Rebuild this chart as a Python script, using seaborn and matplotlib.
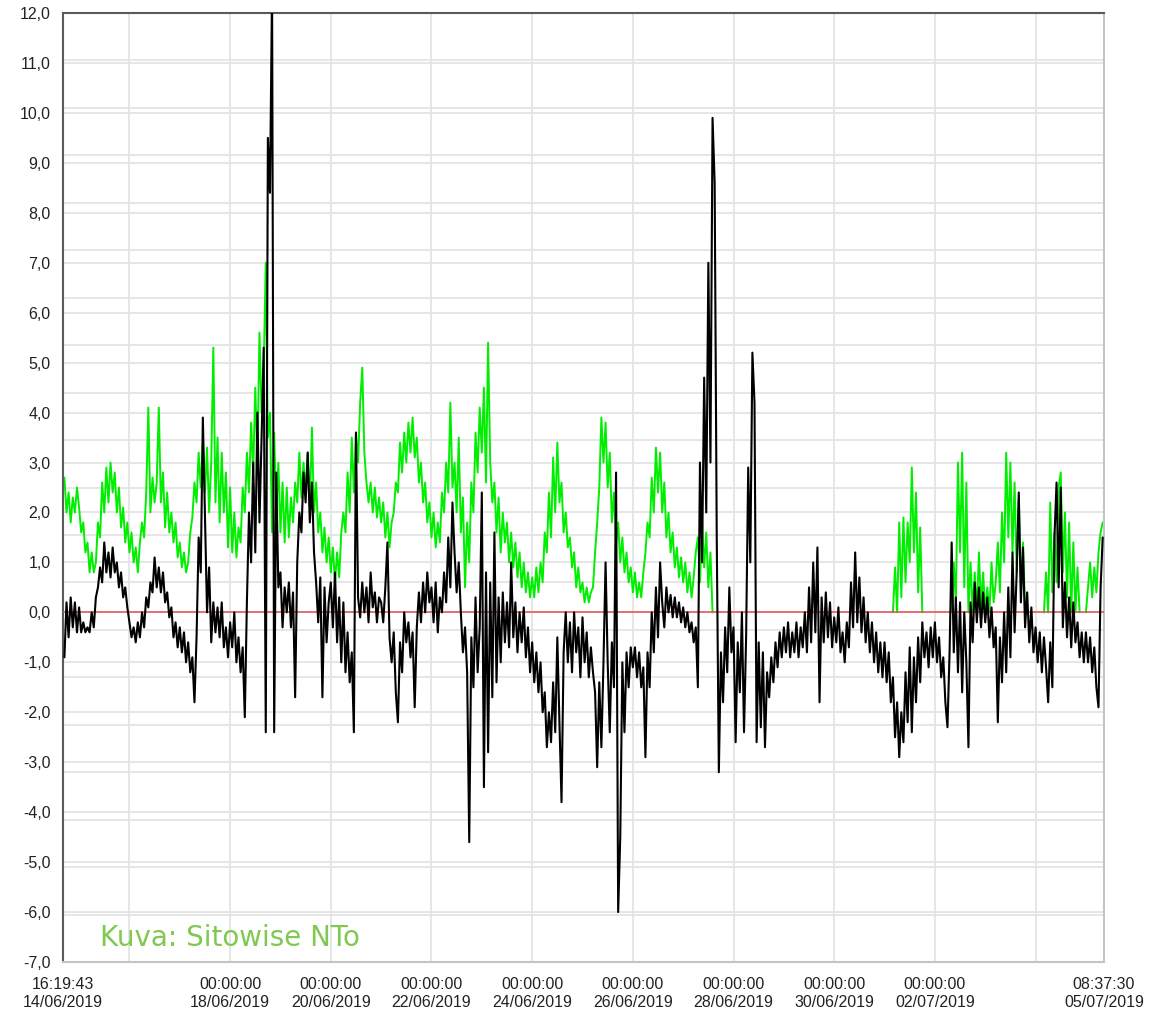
import numpy as np
import pandas as pd
import seaborn as sns
import matplotlib.pyplot as plt
import matplotlib.dates as mdates
from matplotlib.ticker import FixedLocator

sns.set_style('white')
plt.rcParams['font.family'] = ['Liberation Sans', 'DejaVu Sans']

# hourly readings, first value at 14/06/2019 17:00
black_vals = [
    -0.9, 0.2, -0.5, 0.3, -0.3, 0.2, -0.4,
    0.1, -0.4, -0.2, -0.4, -0.3, -0.4, 0.0, -0.3, 0.3, 0.5, 0.9, 0.6, 1.4, 0.8, 1.2, 0.7, 1.3, 0.8, 1.0, 0.5, 0.8, 0.3, 0.5, 0.1,
    -0.2, -0.5, -0.3, -0.6, -0.2, -0.5, 0.0, -0.3, 0.3, 0.1, 0.6, 0.4, 1.1, 0.5, 0.9, 0.4, 0.8, 0.2, 0.4, -0.1, 0.1, -0.5, -0.2, -0.7,
    -0.3, -0.8, -0.4, -1.0, -0.6, -1.2, -0.9, -1.8, -0.5, 1.5, 0.8, 3.9, 2.0, 0.0, 0.9, -0.6, 0.2, -0.4, 0.1, -0.5, 0.2, -0.7, -0.3, -0.9,
    -0.2, -0.7, 0.0, -1.0, -0.5, -1.2, -0.7, -2.1, 0.2, 2.0, 1.0, 3.0, 1.2, 4.0, 1.8, 3.5, 5.3, -2.4, 9.5, 8.4, 12.5, -2.4, 2.8, 0.5,
    0.8, -0.3, 0.5, 0.0, 0.6, -0.3, 0.4, -1.7, 1.0, 2.0, 1.6, 2.8, 2.2, 3.2, 1.8, 2.6, 1.2, 0.6, -0.2, 0.7, -1.7, 0.5, -0.6, 0.2,
    0.6, -0.3, 0.8, -0.6, 0.3, -1.0, 0.2, -1.2, -0.4, -1.4, -0.8, -2.4, 3.6, 0.3, -0.1, 0.6, 0.0, 0.5, -0.2, 0.8, 0.1, 0.4, -0.2, 0.3,
    0.2, -0.2, 0.5, 1.4, -0.5, -1.0, -0.4, -1.6, -2.2, -0.6, -1.2, 0.0, -0.6, -0.2, -0.9, -0.4, -1.9, -0.3, 0.4, -0.2, 0.6, 0.0, 0.8, 0.2,
    0.5, -0.2, 0.6, -0.4, 0.3, 0.0, 0.8, 0.2, 1.5, 0.5, 2.2, 1.2, 0.4, 1.0, 0.0, -0.8, -0.3, -1.2, -4.6, -0.5, -1.5, 0.3, -1.2, -0.3,
    2.4, -3.5, 0.8, -2.8, 0.6, -1.7, 1.6, -1.4, 0.3, -1.0, 0.4, -0.6, 0.2, -0.7, 1.0, -0.5, 0.2, -0.8, 0.0, -0.6, 0.1, -0.9, -0.3, -1.2,
    -0.6, -1.4, -0.8, -1.6, -1.0, -2.0, -1.6, -2.7, -2.0, -2.6, -1.4, -2.4, -0.5, -2.2, -3.8, -0.8, 0.0, -1.0, -0.2, -1.2, 0.0, -0.8, -0.3, -1.3,
    -0.1, -1.0, -0.4, -1.3, -0.7, -1.2, -1.6, -3.1, -1.4, -2.7, -1.0, 1.0, -1.0, -2.4, -0.6, -1.5, 2.8, -6.0, -4.5, -1.0, -2.4, -0.8, -1.5, -0.7,
    -1.1, -0.7, -1.3, -0.8, -1.5, -1.1, -2.9, -0.8, -1.5, 0.0, -0.8, 0.5, -0.5, 1.0, 0.2, -0.3, 0.5, 0.0, 0.35, -0.1, 0.3, -0.1, 0.2, -0.2,
    0.1, -0.3, 0.0, -0.4, -0.2, -0.6, -0.3, -1.5, 3.0, 1.0, 4.7, 2.0, 7.0, 3.0, 9.9, 8.6, 1.5, -3.2, -0.8, -1.8, -0.3, -1.2, 0.5, -0.8,
    -0.3, -2.6, -0.6, -1.6, 0.0, -2.4, -0.5, 2.9, 1.0, 5.2, 4.2, -2.6, -0.6, -2.3, -0.8, -2.7, -1.2, -1.7, -0.9, -1.4, -0.6, -1.1, -0.4, -0.9,
    -0.3, -0.8, -0.2, -0.9, -0.4, -0.8, -0.2, -0.9, -0.3, -0.7, 0.0, -0.8, 0.5, -0.6, 1.0, -0.4, 1.3, -1.8, 0.3, -0.6, 0.4, -0.5, 0.2, -0.7,
    -0.1, -0.6, 0.1, -0.8, -0.4, -1.0, -0.2, -0.7, 0.6, -0.3, 1.2, -0.2, 0.7, -0.4, 0.3, -0.6, 0.0, -0.8, -0.2, -1.0, -0.4, -1.2, -0.6, -1.3,
    -0.6, -1.4, -0.8, -1.8, -1.3, -2.5, -1.8, -2.9, -2.0, -2.6, -1.2, -2.2, -0.7, -2.4, -0.9, -1.8, -0.5, -1.4, -0.2, -0.9, -0.4, -1.1, -0.3, -0.9,
    -0.2, -1.0, -0.5, -1.3, -0.9, -1.8, -2.3, -0.8, 1.4, -0.8, 0.3, -1.2, 0.2, -1.6, 0.0, -1.0, -2.7, 0.2, -0.6, 0.6, -0.2, 0.5, -0.3, 0.4,
    -0.2, 0.3, -0.5, 0.1, -0.7, -0.3, -2.2, -0.5, -1.4, 0.0, -1.2, 0.5, -0.9, 1.2, -0.4, 0.8, 2.4, 0.2, 1.3, -0.3, 0.4, -0.6, 0.1, -0.8,
    -0.3, -1.0, -0.4, -1.2, -0.5, -1.1, -1.8, -0.6, -1.5, 1.5, 2.6, 0.5, 2.5, -0.3, 0.6, -0.5, 0.3, -0.7, 0.2, -0.6, -0.2, -0.9, -0.4, -1.0,
    -0.4, -1.0, -0.5, -1.2, -0.7, -1.5, -1.9, 0.5, 1.5,
]

green_vals = [
    2.7, 2.0, 2.4, 1.8, 2.3, 2.0, 2.5,
    2.1, 1.6, 1.8, 1.2, 1.4, 0.8, 1.2, 0.8, 1.0, 1.8, 1.5, 2.6, 2.0, 2.9, 2.2, 3.0, 2.4, 2.8, 2.0, 2.5, 1.7, 2.1, 1.4, 1.8,
    1.2, 1.6, 1.0, 1.3, 0.8, 1.4, 1.8, 1.5, 2.4, 4.1, 2.0, 2.7, 2.2, 2.6, 4.1, 2.2, 2.8, 1.7, 2.4, 1.6, 2.0, 1.4, 1.8, 1.1,
    1.4, 0.9, 1.2, 0.8, 1.0, 1.6, 1.9, 2.6, 2.2, 3.2, 2.5, 3.4, 2.4, 3.3, 2.0, 3.0, 5.3, 2.2, 3.5, 1.8, 3.2, 2.0, 2.8, 1.3,
    2.5, 1.2, 2.0, 1.1, 1.7, 1.4, 2.5, 2.0, 3.2, 2.4, 3.8, 2.8, 4.5, 3.0, 5.6, 4.0, 4.8, 7.0, 3.5, 4.0, 1.6, 3.6, 2.0, 3.0,
    1.6, 2.6, 1.4, 2.5, 1.5, 2.3, 1.8, 2.6, 2.2, 3.2, 2.3, 3.0, 2.4, 3.2, 2.1, 3.7, 2.0, 2.6, 1.6, 2.0, 1.2, 1.7, 1.0, 1.5,
    0.8, 1.3, 0.6, 1.2, 0.7, 1.6, 2.0, 1.6, 2.8, 2.0, 3.5, 2.4, 3.6, 3.0, 4.2, 4.9, 3.2, 2.6, 2.2, 2.6, 2.0, 2.5, 1.9, 2.3,
    1.8, 2.2, 1.5, 2.0, 1.3, 1.8, 2.0, 2.6, 2.4, 3.4, 2.8, 3.6, 3.0, 3.8, 3.2, 3.9, 3.1, 3.5, 2.6, 3.0, 2.2, 2.6, 1.8, 2.2,
    1.5, 2.0, 1.3, 1.8, 1.4, 2.4, 2.0, 3.0, 2.4, 4.2, 2.5, 3.0, 2.0, 3.5, 1.6, 2.3, 0.5, 1.8, 1.0, 2.6, 2.0, 3.6, 2.8, 4.1,
    3.2, 4.5, 2.6, 5.4, 3.0, 2.2, 2.6, 1.6, 2.3, 1.2, 2.0, 1.4, 1.8, 1.0, 1.6, 0.9, 1.4, 0.7, 1.2, 0.5, 1.0, 0.4, 0.8, 0.3,
    0.7, 0.3, 0.9, 0.4, 1.0, 0.6, 1.6, 1.2, 2.4, 1.5, 3.1, 2.0, 3.4, 2.2, 2.6, 1.6, 2.0, 1.3, 1.5, 0.9, 1.2, 0.5, 0.9, 0.4,
    0.6, 0.2, 0.5, 0.2, 0.4, 0.5, 1.2, 1.8, 2.5, 3.9, 3.0, 3.8, 2.5, 3.2, 1.8, 2.4, 1.4, 1.8, 1.0, 1.5, 0.8, 1.2, 0.6, 0.9,
    0.4, 0.8, 0.3, 0.6, 0.3, 0.8, 1.2, 1.8, 1.5, 2.7, 2.0, 3.3, 2.4, 3.2, 2.0, 2.6, 1.5, 2.0, 1.2, 1.6, 0.9, 1.3, 0.7, 1.1,
    0.6, 1.0, 0.4, 0.8, 0.3, 0.7, 1.2, 1.5, 0.6, 1.8, 0.9, 1.6, 0.5, 1.2, 0, 0, 0, 0, 0, 0, 0, 0, 0, 0,
    0, 0, 0, 0, 0, 0, 0, 0, 0, 0, 0, 0, 0, 0, 0, 0, 0, 0, 0, 0, 0, 0, 0, 0,
    0, 0, 0, 0, 0, 0, 0, 0, 0, 0, 0, 0, 0, 0, 0, 0, 0, 0, 0, 0, 0, 0, 0, 0,
    0, 0, 0, 0, 0, 0, 0, 0, 0, 0, 0, 0, 0, 0, 0, 0, 0, 0, 0, 0, 0, 0, 0, 0,
    0, 0, 0, 0, 0, 0.9, 0.0, 1.8, 0.3, 1.9, 0.6, 1.8, 1.0, 2.9, 1.2, 2.4, 0.4, 1.7, 0, 0, 0, 0, 0, 0,
    0, 0, 0, 0, 0, 0, 0, 0, 0, 1.0, 0.2, 3.0, 1.2, 3.2, 0.5, 2.6, 0.0, 1.0, 0.0, 0.8, 0.0, 1.2, 0.1, 0.8,
    0.0, 0.5, 0.0, 1.0, 0.2, 0.6, 1.4, 0.4, 2.0, 1.0, 3.2, 1.5, 3.0, 1.2, 2.6, 0.8, 2.3, 0.4, 1.4, 0, 0, 0, 0, 0,
    0, 0, 0, 0, 0, 0.8, 0.0, 2.2, 0.4, 1.6, 0.6, 2.5, 2.8, 0.8, 2.0, 0.3, 1.8, 0.0, 1.4, 0.0, 0.9, 0, 0, 0,
    0.0, 0.5, 1.0, 0.3, 0.9, 0.4, 1.2, 1.6, 1.8,
]

tick_times = ['2019-06-14 16:19:43', '2019-06-16 00:00:00', '2019-06-18 00:00:00',
              '2019-06-20 00:00:00', '2019-06-22 00:00:00', '2019-06-24 00:00:00',
              '2019-06-26 00:00:00', '2019-06-28 00:00:00', '2019-06-30 00:00:00',
              '2019-07-02 00:00:00', '2019-07-04 00:00:00', '2019-07-05 08:37:30']
tick_labels = ['16:19:43\n14/06/2019', '', '00:00:00\n18/06/2019',
               '00:00:00\n20/06/2019', '00:00:00\n22/06/2019',
               '00:00:00\n24/06/2019', '00:00:00\n26/06/2019',
               '00:00:00\n28/06/2019', '00:00:00\n30/06/2019',
               '00:00:00\n02/07/2019', '', '08:37:30\n05/07/2019']
y_ticks = list(range(-7, 13))

times = pd.date_range('2019-06-14 17:00', periods=len(black_vals), freq='h')
df = pd.DataFrame({'time': times, 'black': black_vals, 'green': green_vals})

# flat zero stretches of the green series sit hidden under the zero line
g = df['green']
flat = (g == 0) & (g.shift(1, fill_value=0) == 0) & (g.shift(-1, fill_value=0) == 0)
df['seg'] = flat.cumsum()
dg = df[~flat]

fig = plt.figure(figsize=(11.55, 10.14), dpi=100)
ax = fig.add_axes([63/1155, 52/1014, 1041/1155, 949/1014])

sns.lineplot(data=dg, x='time', y='green', units='seg', color='#00ee00', lw=1.4,
             estimator=None, ax=ax, zorder=2)
ax.axhline(0, color='#e05050', lw=1.1, zorder=3)
sns.lineplot(data=df, x='time', y='black', color='black', lw=1.5,
             estimator=None, ax=ax, zorder=4)

tt = mdates.date2num(pd.to_datetime(tick_times, format='%Y-%m-%d %H:%M:%S').to_pydatetime())
ax.set_xlim(tt[0], tt[-1])
ax.set_xticks(tt)
ax.set_xticklabels(tick_labels)
ax.set_ylim(-7, 12)
ax.set_yticks(y_ticks)
ax.set_yticklabels([f'{v:.1f}'.replace('.', ',') for v in y_ticks])
ax.yaxis.set_minor_locator(FixedLocator(np.linspace(-7, 12, 21)))
ax.set_xlabel('')
ax.set_ylabel('')

gcol = '#e4e4e4'
ax.grid(True, axis='x', which='major', color=gcol, lw=1.3)
ax.grid(True, axis='y', which='major', color=gcol, lw=1.3)
ax.grid(True, axis='y', which='minor', color=gcol, lw=1.3)
xg = ax.get_xgridlines()
xg[0].set_visible(False)
xg[-1].set_visible(False)
ax.set_axisbelow(True)

ax.tick_params(axis='both', which='major', direction='out', length=6,
               width=1.3, color='#333333', labelsize=11.5, labelcolor='#222222')
ax.tick_params(axis='x', pad=5)
ax.tick_params(axis='y', pad=3)
ax.tick_params(axis='y', which='minor', length=0)

for s in ['left', 'top']:
    ax.spines[s].set_color('#5a5a5a')
    ax.spines[s].set_linewidth(1.5)
for s in ['right', 'bottom']:
    ax.spines[s].set_color('#c4c4c4')
    ax.spines[s].set_linewidth(1.5)

ax.text(0.0355, 0.017, 'Kuva: Sitowise NTo', transform=ax.transAxes,
        color='#80c850', fontsize=20, family='DejaVu Sans', va='baseline')

fig.savefig('out.png', dpi=100)
